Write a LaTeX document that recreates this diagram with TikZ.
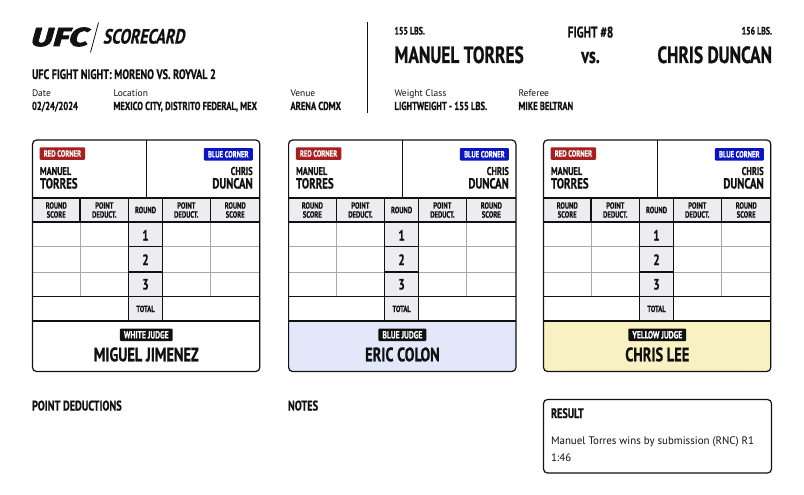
\documentclass[tikz,border=0pt]{standalone}
\usepackage{fontspec}
\setmainfont{PT Sans}
\newfontfamily\cond[FakeStretch=0.74,FakeBold=0.6]{PT Sans Bold}
\newfontfamily\reg{PT Sans}
\newfontfamily\logo[FakeStretch=1.3,FakeSlant=0.28,FakeBold=3]{Fira Sans Bold}
\newfontfamily\scard[FakeStretch=0.76,FakeSlant=0.2,FakeBold=0.6]{PT Sans Bold}
\definecolor{ink}{HTML}{111111}
\definecolor{headgray}{HTML}{EDEDEF}
\definecolor{gridgray}{HTML}{A8A8A8}
\definecolor{redc}{HTML}{A5201E}
\definecolor{bluec}{HTML}{0B14C4}
\definecolor{bluej}{HTML}{E2E8FA}
\definecolor{yellowj}{HTML}{F8F2C2}
\newcommand{\fs}[1]{\fontsize{#1}{#1}\selectfont}
\tikzset{
  x=1pt,y=-1pt,
  lab/.style={inner sep=0,outer sep=0,text=ink,anchor=base west},
  labr/.style={lab,anchor=base east},
  labc/.style={lab,anchor=base},
  captxt/.style={lab,font=\reg\fs{9.5}},
  valtxt/.style={lab,font=\cond\fs{11.6}},
  heavy/.style={line width=1.2pt,draw=ink},
  gridline/.style={line width=.8pt,draw=gridgray},
  hdr/.style={inner sep=0,align=center,font=\cond\fs{9},text=ink},
  tagbox/.style={rounded corners=1pt,inner sep=0,minimum height=12.5pt,text=white,font=\cond\fs{9}},
}
% #1 prefix, #2 left x, #3 fill, #4 judge tag, #5 judge name
\newcommand{\card}[5]{%
 \begin{scope}[shift={(#2,0)}]
  \fill[#3,rounded corners=4pt] (0,321) -- (0,371.5) -- (227.3,371.5) -- (227.3,321) -- cycle;
  \fill[headgray] (0,198) rectangle (227.3,222);
  \fill[headgray] (96.2,222) rectangle (129.8,321);
  \draw[gridline] (47.5,222) -- (47.5,296) (177.8,222) -- (177.8,296);
  \draw[gridline] (0,246.7) -- (96.2,246.7) (129.8,246.7) -- (227.3,246.7)
                   (0,272) -- (96.2,272) (129.8,272) -- (227.3,272);
  \draw[heavy] (114.2,140) -- (114.2,198);
  \draw[heavy] (0,198) -- (227.3,198) (0,222) -- (227.3,222)
     (0,296.5) -- (227.3,296.5) (0,321) -- (227.3,321);
  \draw[heavy] (47.5,198) -- (47.5,222) (177.8,198) -- (177.8,222)
     (96.2,198) -- (96.2,321) (129.8,198) -- (129.8,321);
  \draw[heavy] (96.2,246.7) -- (129.8,246.7) (96.2,272) -- (129.8,272);
  \draw[heavy,rounded corners=4pt] (0,140) rectangle (227.3,371.5);
  \node[tagbox,fill=redc,minimum width=45.5pt,anchor=west] (#1red) at (7,153.5) {RED CORNER};
  \node[tagbox,fill=bluec,minimum width=49pt,anchor=east] (#1blue) at (220.5,154.3) {BLUE CORNER};
  \node[lab,font=\cond\fs{11.3}] (#1rf) at (7.5,175) {MANUEL};
  \node[lab,font=\cond\fs{14.7}] (#1rl) at (7.5,188.5) {TORRES};
  \node[labr,font=\cond\fs{11.3}] (#1bf) at (220.2,175) {CHRIS};
  \node[labr,font=\cond\fs{14.7}] (#1bl) at (220.2,188.5) {DUNCAN};
  \node[hdr] (#1h1) at (23.7,210) {ROUND\\SCORE};
  \node[hdr] (#1h2) at (71.8,210) {POINT\\DEDUCT.};
  \node[hdr] (#1h3) at (113,210) {ROUND};
  \node[hdr] (#1h4) at (153.8,210) {POINT\\DEDUCT.};
  \node[hdr] (#1h5) at (202.7,210) {ROUND\\SCORE};
  \node[labc,font=\cond\fs{15}] (#1r1) at (113,240.5) {1};
  \node[labc,font=\cond\fs{15}] (#1r2) at (113,265) {2};
  \node[labc,font=\cond\fs{15}] (#1r3) at (113,289.5) {3};
  \node[labc,font=\cond\fs{8.9}] (#1tot) at (113,312) {TOTAL};
  \node[tagbox,fill=ink,anchor=center,inner xsep=4pt,font=\cond\fs{10.3}] (#1jt) at (113.8,334.8) {#4};
  \node[labc,font=\cond\fs{19.5}] (#1jn) at (113.8,361.3) {#5};
 \end{scope}}
\begin{document}
\begin{tikzpicture}
\useasboundingbox (0,0) rectangle (804,495);
\fill[white] (0,0) rectangle (804,495);
% header
\node[lab,font=\logo\fs{26}] (ufc) at (29.5,46) {UFC};
\draw[line width=.8pt,draw=ink] (98.5,22.5) -- (90.5,52.5);
\node[lab,font=\scard\fs{20.5}] (sc) at (103,43.5) {SCORECARD};
\node[lab,font=\cond\fs{13.7}] (ev) at (32,79) {UFC FIGHT NIGHT: MORENO VS. ROYVAL 2};
\node[captxt] (c1) at (32,97) {Date};
\node[valtxt] (v1) at (32,110) {02/24/2024};
\node[captxt] (c2) at (113.5,97) {Location};
\node[valtxt] (v2) at (113.5,110) {MEXICO CITY, DISTRITO FEDERAL, MEX};
\node[captxt] (c3) at (290.5,97) {Venue};
\node[valtxt] (v3) at (290.5,110) {ARENA CDMX};
\draw[line width=1.2pt,draw=ink] (367.5,22) -- (367.5,113);
\node[lab,font=\cond\fs{10.7}] (w1) at (394.5,34.5) {155 LBS.};
\node[labc,font=\cond\fs{15.4}] (fn) at (590.5,37.5) {FIGHT \#8};
\node[labr,font=\cond\fs{10.7}] (w2) at (772,34.5) {156 LBS.};
\node[lab,font=\cond\fs{23.5}] (n1) at (394.5,63) {MANUEL TORRES};
\node[labc,font=\cond\fs{22}] (vs) at (590.5,63) {vs.};
\node[labr,font=\cond\fs{23.5}] (n2) at (772,63) {CHRIS DUNCAN};
\node[captxt] (c4) at (394.5,97) {Weight Class};
\node[valtxt] (v4) at (394.5,110) {LIGHTWEIGHT - 155 LBS.};
\node[captxt] (c5) at (518.5,97) {Referee};
\node[valtxt] (v5) at (518.5,110) {MIKE BELTRAN};
% cards
\card{a}{32.5}{white}{WHITE JUDGE}{MIGUEL JIMENEZ}
\card{b}{288.6}{bluej}{BLUE JUDGE}{ERIC COLON}
\card{c}{543.5}{yellowj}{YELLOW JUDGE}{CHRIS LEE}
% bottom
\node[lab,font=\cond\fs{14}] (pd) at (32,410.5) {POINT DEDUCTIONS};
\node[lab,font=\cond\fs{14}] (no) at (288,410.5) {NOTES};
\draw[heavy,rounded corners=4pt] (543.5,399.5) rectangle (771.5,473);
\node[lab,font=\cond\fs{13.7}] (rs) at (551,418) {RESULT};
\node[lab,font=\reg\fs{10.9}] (r1) at (551,444) {Manuel Torres wins by submission (RNC) R1};
\node[lab,font=\reg\fs{10.9}] (r2) at (551,461) {1:46};
\end{tikzpicture}
\end{document}
